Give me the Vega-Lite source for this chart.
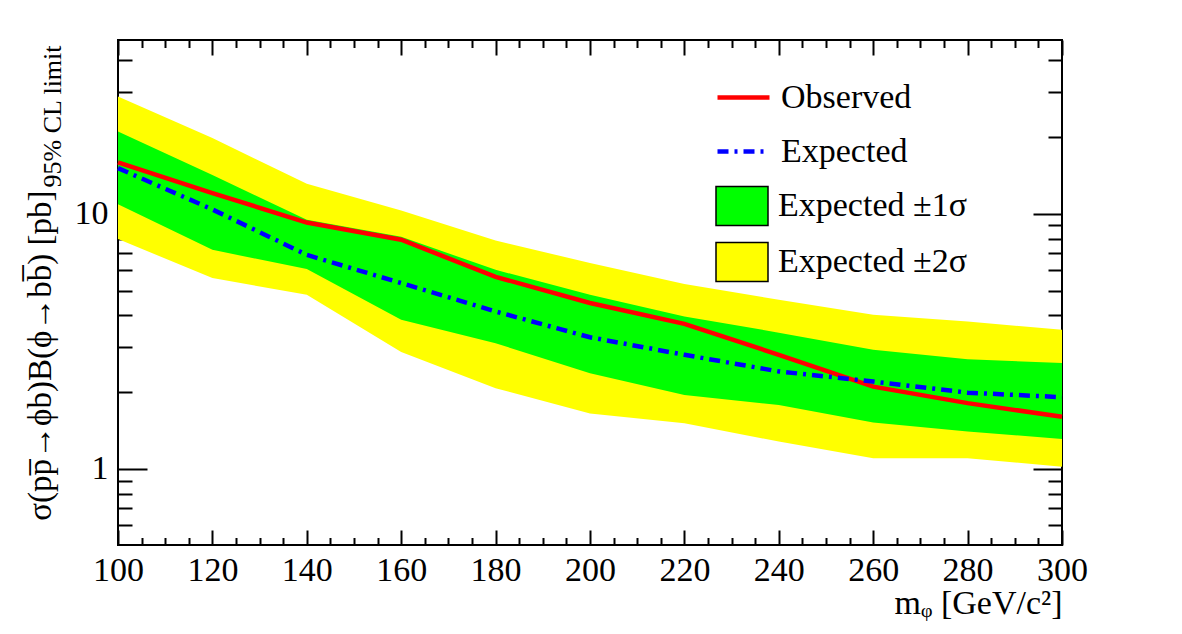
{
  "$schema": "https://vega.github.io/schema/vega-lite/v6.json",
  "width": 944,
  "height": 505,
  "autosize": {"type": "none"},
  "padding": {"left": 118, "top": 40, "right": 120, "bottom": 89},
  "background": "white",
  "config": {
    "view": {"stroke": "black", "strokeWidth": 2},
    "axis": {"labelFont": "Liberation Serif", "titleFont": "Liberation Serif", "titleFontWeight": "normal", "labelColor": "black", "titleColor": "black", "tickColor": "black", "tickWidth": 2, "grid": false, "domain": false, "labelFlush": false, "labelOverlap": false, "labelBound": false},
    "legend": {"labelFont": "Liberation Serif", "labelFontSize": 34, "labelColor": "black", "labelBaseline": "middle", "labelLimit": 500, "labelOffset": 9, "title": null, "padding": 0, "symbolSize": 2704, "symbolOpacity": 1}
  },
  "data": {"values": [
    {"m": 100, "s2hi": 28.8, "s1hi": 21.0, "obs": 15.9, "exp": 15.1, "s1lo": 10.9, "s2lo": 7.96},
    {"m": 120, "s2hi": 19.8, "s1hi": 14.2, "obs": 12.05, "exp": 10.4, "s1lo": 7.22, "s2lo": 5.6},
    {"m": 140, "s2hi": 13.1, "s1hi": 9.47, "obs": 9.24, "exp": 6.9, "s1lo": 6.07, "s2lo": 4.81},
    {"m": 160, "s2hi": 10.3, "s1hi": 8.12, "obs": 7.91, "exp": 5.35, "s1lo": 3.84, "s2lo": 2.87},
    {"m": 180, "s2hi": 7.86, "s1hi": 6.03, "obs": 5.66, "exp": 4.14, "s1lo": 3.11, "s2lo": 2.07},
    {"m": 200, "s2hi": 6.41, "s1hi": 4.81, "obs": 4.47, "exp": 3.28, "s1lo": 2.37, "s2lo": 1.65},
    {"m": 220, "s2hi": 5.31, "s1hi": 3.96, "obs": 3.70, "exp": 2.80, "s1lo": 1.95, "s2lo": 1.51},
    {"m": 240, "s2hi": 4.60, "s1hi": 3.42, "obs": 2.80, "exp": 2.41, "s1lo": 1.78, "s2lo": 1.28},
    {"m": 260, "s2hi": 4.02, "s1hi": 2.93, "obs": 2.10, "exp": 2.20, "s1lo": 1.52, "s2lo": 1.10},
    {"m": 280, "s2hi": 3.78, "s1hi": 2.69, "obs": 1.81, "exp": 1.99, "s1lo": 1.40, "s2lo": 1.10},
    {"m": 300, "s2hi": 3.51, "s1hi": 2.60, "obs": 1.60, "exp": 1.91, "s1lo": 1.31, "s2lo": 1.02}
  ]},
  "resolve": {"axis": {"x": "independent", "y": "independent"}},
  "layer": [
    {
      "mark": {"type": "area", "opacity": 1},
      "encoding": {
        "x": {"field": "m", "type": "quantitative", "scale": {"domain": [100, 300], "nice": false, "zero": false},
          "axis": {"orient": "bottom", "values": [100, 120, 140, 160, 180, 200, 220, 240, 260, 280, 300], "format": "d", "tickSize": -15, "labelFontSize": 34, "labelPadding": 23, "title": "mᵩ [GeV/c²]", "titleFontSize": 34, "titleAnchor": "end", "titleAlign": "right", "titleBaseline": "alphabetic", "titleX": 944, "titleY": 68}},
        "y": {"field": "s2lo", "type": "quantitative", "scale": {"type": "log", "domain": [0.503, 48], "nice": false},
          "axis": {"orient": "left", "values": [1, 10], "format": "d", "tickSize": -29, "labelFontSize": 34, "labelPadding": 39, "title": "σ(pp̅→ϕb)B(ϕ→bb̅) [pb]", "titleFontSize": 33, "titleAngle": -90, "titleAlign": "right", "titleBaseline": "alphabetic", "titleX": -68, "titleY": 150}},
        "y2": {"field": "s2hi"},
        "fill": {"datum": "Expected ±2σ", "type": "nominal",
          "scale": {"domain": ["Expected ±1σ", "Expected ±2σ"], "range": ["#00ff00", "#ffff00"]},
          "legend": {"orient": "none", "legendX": 597, "legendY": 139, "rowPadding": 6, "symbolType": "M-1,-0.75H1V0.75H-1Z", "symbolStrokeColor": "black", "symbolStrokeWidth": 1.5}}
      }
    },
    {
      "mark": {"type": "area", "opacity": 1},
      "encoding": {
        "x": {"field": "m", "type": "quantitative", "scale": {"domain": [100, 300], "nice": false, "zero": false},
          "axis": {"orient": "bottom", "values": [105, 110, 115, 125, 130, 135, 145, 150, 155, 165, 170, 175, 185, 190, 195, 205, 210, 215, 225, 230, 235, 245, 250, 255, 265, 270, 275, 285, 290, 295], "tickSize": -7.5, "labels": false, "title": null}},
        "y": {"field": "s1lo", "type": "quantitative", "scale": {"type": "log", "domain": [0.503, 48], "nice": false},
          "axis": {"orient": "left", "values": [0.6, 0.7, 0.8, 0.9, 2, 3, 4, 5, 6, 7, 8, 9, 20, 30, 40], "tickSize": -14, "labels": false, "title": "95% CL limit", "titleFontSize": 26, "titleAngle": -90, "titleAlign": "left", "titleBaseline": "alphabetic", "titleX": -58, "titleY": 147}},
        "y2": {"field": "s1hi"},
        "fill": {"datum": "Expected ±1σ", "type": "nominal"}
      }
    },
    {
      "mark": {"type": "line", "strokeWidth": 4.5},
      "encoding": {
        "x": {"field": "m", "type": "quantitative", "scale": {"domain": [100, 300], "nice": false, "zero": false},
          "axis": {"orient": "top", "values": [100, 120, 140, 160, 180, 200, 220, 240, 260, 280, 300], "tickSize": -15, "labels": false, "title": null}},
        "y": {"field": "obs", "type": "quantitative", "scale": {"type": "log", "domain": [0.503, 48], "nice": false},
          "axis": {"orient": "right", "values": [1, 10], "tickSize": -29, "labels": false, "title": null}},
        "stroke": {"datum": "Observed", "type": "nominal",
          "scale": {"domain": ["Observed"], "range": ["#ff0000"]},
          "legend": {"orient": "none", "legendX": 597, "legendY": 29, "symbolType": "stroke", "symbolStrokeWidth": 4.5}}
      }
    },
    {
      "mark": {"type": "line", "strokeWidth": 4.5, "color": "#0000ff", "stroke": "#0000ff"},
      "encoding": {
        "x": {"field": "m", "type": "quantitative", "scale": {"domain": [100, 300], "nice": false, "zero": false},
          "axis": {"orient": "top", "values": [105, 110, 115, 125, 130, 135, 145, 150, 155, 165, 170, 175, 185, 190, 195, 205, 210, 215, 225, 230, 235, 245, 250, 255, 265, 270, 275, 285, 290, 295], "tickSize": -7.5, "labels": false, "title": null}},
        "y": {"field": "exp", "type": "quantitative", "scale": {"type": "log", "domain": [0.503, 48], "nice": false},
          "axis": {"orient": "right", "values": [0.6, 0.7, 0.8, 0.9, 2, 3, 4, 5, 6, 7, 8, 9, 20, 30, 40], "tickSize": -14, "labels": false, "title": null}},
        "strokeDash": {"datum": "Expected", "type": "nominal",
          "scale": {"domain": ["Expected"], "range": [[11, 6, 3, 6]]},
          "legend": {"orient": "none", "legendX": 597, "legendY": 83, "symbolType": "stroke", "symbolStrokeWidth": 4.5, "symbolStrokeColor": "#0000ff"}}
      }
    }
  ]
}
